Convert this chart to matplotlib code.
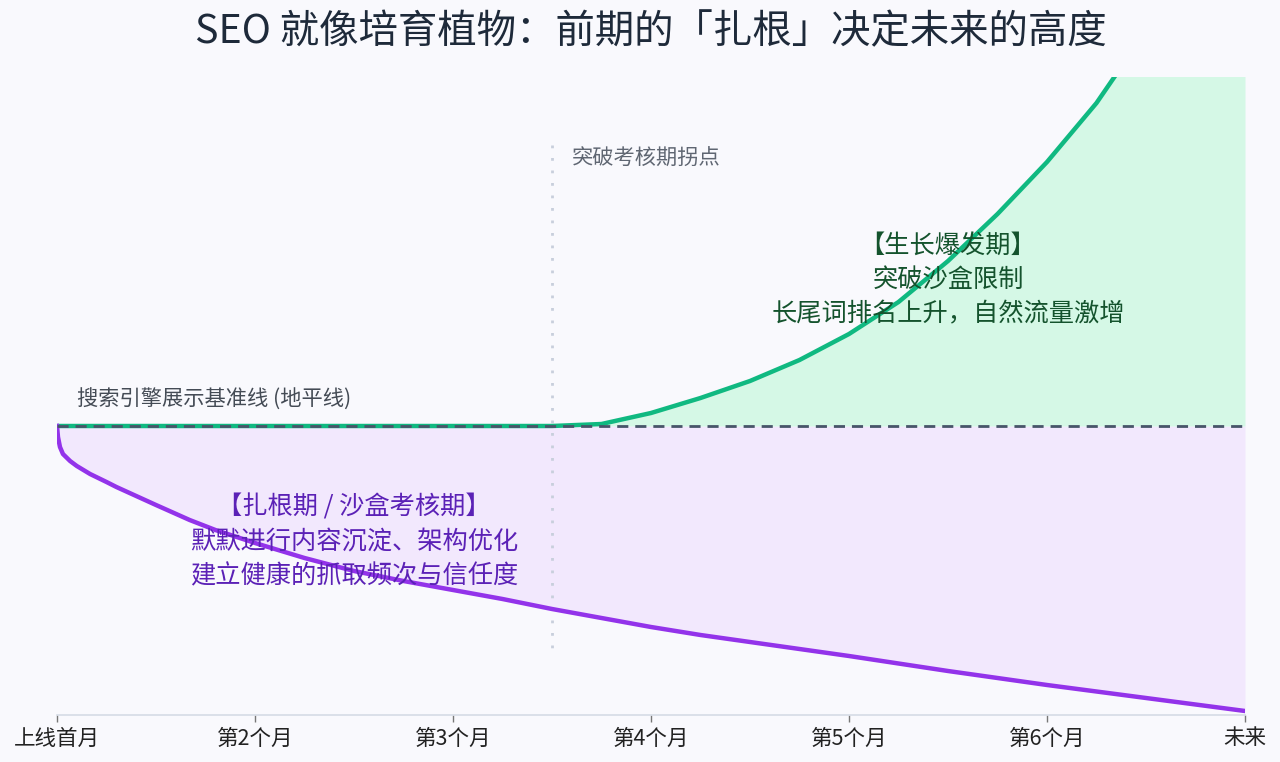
import matplotlib
matplotlib.use("Agg")
import matplotlib.pyplot as plt

plt.rcParams['font.family'] = ['Noto Sans CJK SC', 'DejaVu Sans']

title = "SEO 就像培育植物：前期的「扎根」决定未来的高度"
tick_labels = ["上线首月", "第2个月", "第3个月", "第4个月", "第5个月", "第6个月", "未来"]
tick_pos = [0, 1, 2, 3, 4, 5, 6]

# Root (sandbox) curve
root_x = [0, 0.005, 0.015, 0.03, 0.066, 0.1, 0.167, 0.25, 0.3, 0.4, 0.5, 0.67, 0.8, 1.0,
          1.25, 1.5, 1.75, 2.0, 2.25, 2.5, 2.75, 3.0, 3.25, 3.5, 3.75, 4.0, 4.5, 5.0, 5.5, 6.0]
root_y = [0, -1.1, -2.1, -2.8, -3.5, -4.0, -4.8, -5.6, -6.1, -7.0, -7.9, -9.4, -10.4, -11.7,
          -13.2, -14.5, -15.5, -16.4, -17.3, -18.3, -19.2, -20.1, -20.9, -21.6, -22.3, -23.0,
          -24.5, -25.9, -27.2, -28.5]

# Growth curve
grow_x = [0, 0.5, 1.0, 1.5, 2.0, 2.5, 2.75, 3.0, 3.25, 3.5, 3.75, 4.0, 4.25, 4.5, 4.75,
          5.0, 5.25, 5.5, 5.75, 6.0]
grow_y = [0, 0, 0, 0, 0, 0, 0.2, 1.3, 2.8, 4.5, 6.6, 9.2, 12.4, 16.5, 21.2,
          26.4, 32.3, 39.5, 46.0, 53.0]

inflection_x = 2.5

bg = '#f9f9fd'
fig = plt.figure(figsize=(12.8, 7.62), dpi=100, facecolor=bg)
ax = fig.add_axes([57/1280, 47/762, (1245-57)/1280, (715-77)/762])
ax.set_facecolor(bg)

ax.set_xlim(0, 6)
ax.set_ylim(-28.9, 34.9)

ax.fill_between(root_x, root_y, 0, color='#f2e8fd', zorder=1, linewidth=0)
ax.fill_between(grow_x, 0, grow_y, color='#d5f8e6', zorder=1, linewidth=0)

ax.plot(grow_x, grow_y, color='#10b981', lw=3.2, zorder=3, solid_joinstyle='round')
ax.plot(root_x, root_y, color='#9333ea', lw=3.2, zorder=3, solid_joinstyle='round')

ax.axhline(0, color='#475569', lw=2, ls=(0, (4, 2.5)), zorder=4)
ax.plot([inflection_x, inflection_x], [28.1, -22.9], color='#c8cfdc', lw=2,
        ls=(0, (1, 3.5)), zorder=2)

ax.text(0.1, 2.6, "搜索引擎展示基准线 (地平线)", fontsize=15.3, color='#444b55',
        ha='left', va='center')
ax.text(2.6, 26.7, "突破考核期拐点", fontsize=15.3, color='#5f6672', ha='left', va='center')

ax.text(1.5, -11.6, "【扎根期 / 沙盒考核期】\n默默进行内容沉淀、架构优化\n建立健康的抓取频次与信任度",
        fontsize=18.2, color='#5b21b6', ha='center', va='center', linespacing=1.42)
ax.text(4.5, 14.6, "【生长爆发期】\n突破沙盒限制\n长尾词排名上升，自然流量激增",
        fontsize=18.2, color='#14532d', ha='center', va='center', linespacing=1.42)

for s in ['left', 'right', 'top']:
    ax.spines[s].set_visible(False)
ax.spines['bottom'].set_color('#d5dbe5')
ax.spines['bottom'].set_linewidth(1.2)
ax.set_yticks([])
ax.set_xticks(tick_pos)
ax.set_xticklabels(tick_labels, fontsize=15.5, color='#222222')
ax.tick_params(axis='x', length=5, color='#777777', width=1, pad=4)

fig.text(651/1280, 1 - 32/762, title, fontsize=28.4, color='#1e2a3a', ha='center', va='center')

fig.savefig('out.png', dpi=100, facecolor=bg)
